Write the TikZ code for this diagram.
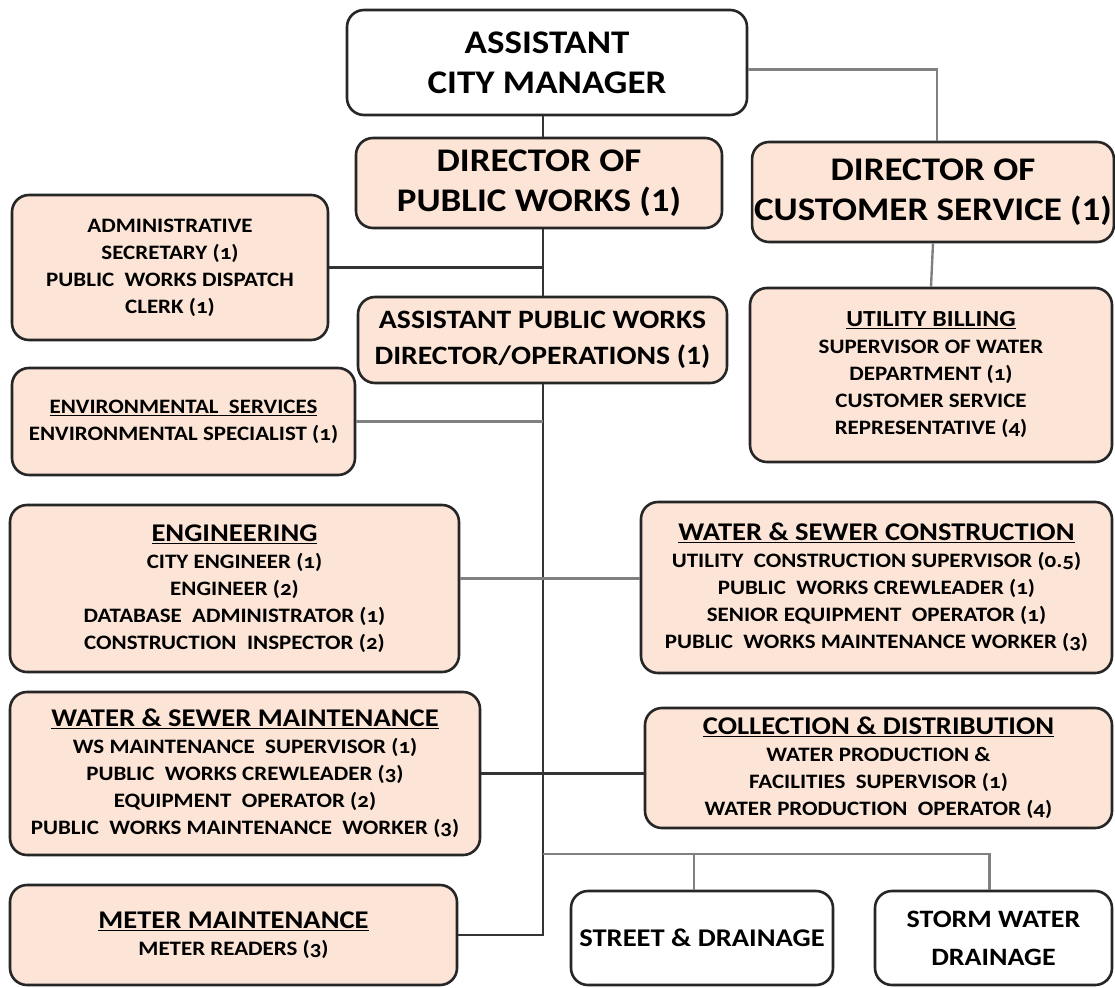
\documentclass[tikz,border=0pt]{standalone}
\usepackage{fontspec}
\setmainfont{Carlito}[FakeStretch=1.12]
\begin{document}
\begin{tikzpicture}[x=1pt,y=-1pt,
  box/.style={draw=black!85, line width=2.6pt, rounded corners=17pt, fill=peach, align=center, inner sep=2pt, font=\bfseries},
  wbox/.style={box, fill=white},
  big/.style={font=\bfseries\fontsize{33}{40}\selectfont},
  mid/.style={font=\bfseries\fontsize{26.5}{36}\selectfont},
  small/.style={font=\bfseries\fontsize{20.5}{27}\selectfont\addfontfeature{Numbers=OldStyle}},
  trunk/.style={draw=black!80, line width=2.4pt},
  branch/.style={draw=black!50, line width=2.4pt}]
\definecolor{peach}{HTML}{FCE4D6}
\newcommand{\hd}[1]{{\fontsize{25.5}{28}\selectfont\addfontfeature{Numbers=Lining}\underline{#1}}}
\fill[white] (0,0) rectangle (1115,987);
\useasboundingbox (0,0) rectangle (1115,987);
\coordinate (tx) at (543,0);

\node[wbox, big, minimum width=400, minimum height=105] (acm) at (547,62.5) {ASSISTANT\\CITY MANAGER};
\node[box, big, minimum width=366, minimum height=90] (dpw) at (539,183) {DIRECTOR OF\\PUBLIC WORKS (1)};
\node[box, big, minimum width=360, minimum height=100] (dcs) at (933,192) {DIRECTOR OF\\CUSTOMER SERVICE (1)};
\node[box, small, minimum width=316, minimum height=145] (adm) at (170,267.5) {ADMINISTRATIVE\\SECRETARY (1)\\PUBLIC\ \ WORKS DISPATCH\\CLERK (1)};
\node[box, mid, minimum width=369, minimum height=86] (apwd) at (542.5,340) {ASSISTANT PUBLIC WORKS\\DIRECTOR/OPERATIONS (1)};
\node[box, small, minimum width=362, minimum height=174] (ub) at (931,375) {{\fontsize{23}{27}\selectfont\underline{UTILITY BILLING}}\\SUPERVISOR OF WATER\\DEPARTMENT (1)\\CUSTOMER SERVICE\\REPRESENTATIVE (4)};
\node[box, small, minimum width=343, minimum height=107] (env) at (183.5,421.5) {\underline{ENVIRONMENTAL\ \ SERVICES}\\ENVIRONMENTAL SPECIALIST (1)};
\node[box, small, minimum width=449, minimum height=167] (eng) at (234.5,588.5) {\hd{ENGINEERING}\\CITY ENGINEER (1)\\ENGINEER (2)\\DATABASE\ \ ADMINISTRATOR (1)\\CONSTRUCTION\ \ INSPECTOR (2)};
\node[box, small, minimum width=471, minimum height=171] (wsc) at (876.5,587.5) {\hd{WATER \& SEWER CONSTRUCTION}\\UTILITY\ \ CONSTRUCTION SUPERVISOR (0.5)\\PUBLIC\ \ WORKS CREWLEADER (1)\\SENIOR EQUIPMENT\ \ OPERATOR (1)\\PUBLIC\ \ WORKS MAINTENANCE WORKER (3)};
\node[box, small, minimum width=470, minimum height=163] (wsm) at (245,773.5) {\hd{WATER \& SEWER MAINTENANCE}\\WS MAINTENANCE\ \ SUPERVISOR (1)\\PUBLIC\ \ WORKS CREWLEADER (3)\\EQUIPMENT\ \ OPERATOR (2)\\PUBLIC\ \ WORKS MAINTENANCE\ \ WORKER (3)};
\node[box, small, minimum width=467, minimum height=120] (cd) at (878.5,768) {\hd{COLLECTION \& DISTRIBUTION}\\WATER PRODUCTION \&\\FACILITIES\ \ SUPERVISOR (1)\\WATER PRODUCTION\ \ OPERATOR (4)};
\node[box, small, minimum width=447, minimum height=100] (mm) at (233.5,935) {\hd{METER MAINTENANCE}\\METER READERS (3)};
\node[wbox, font=\bfseries\fontsize{25.5}{34}\selectfont, minimum width=262, minimum height=94] (sd) at (702,938) {STREET \& DRAINAGE};
\node[wbox, font=\bfseries\fontsize{25}{38}\selectfont, minimum width=237, minimum height=94] (sw) at (993.5,938) {STORM WATER\\DRAINAGE};

\coordinate (br) at (543,854);
\coordinate (e1) at ([yshift=10pt]eng.east);
\coordinate (a1) at ([yshift=-7pt]acm.east);
\coordinate (s1) at ([xshift=-8pt]sd.north);
\draw[trunk] (acm.south -| tx) -- (dpw.north -| tx);
\draw[trunk] (dpw.south -| tx) -- (apwd.north -| tx);
\draw[trunk] (adm.east) -- (adm.east -| tx);
\draw[trunk] (apwd.south -| tx) -- (mm.east -| tx) -- (mm.east);
\draw[branch] (env.east) -- (env.east -| tx);
\draw[branch] (e1) -- (e1 -| wsc.west);
\draw[trunk] (wsm.east) -- (wsm.east -| cd.west);
\draw[branch] (br) -| ([xshift=-4pt]sw.north);
\draw[branch] (s1) -- (s1 |- br);
\draw[branch] (a1) -| ([xshift=4pt]dcs.north);
\draw[branch] (dcs.south) -- (ub.north);
\end{tikzpicture}
\end{document}
